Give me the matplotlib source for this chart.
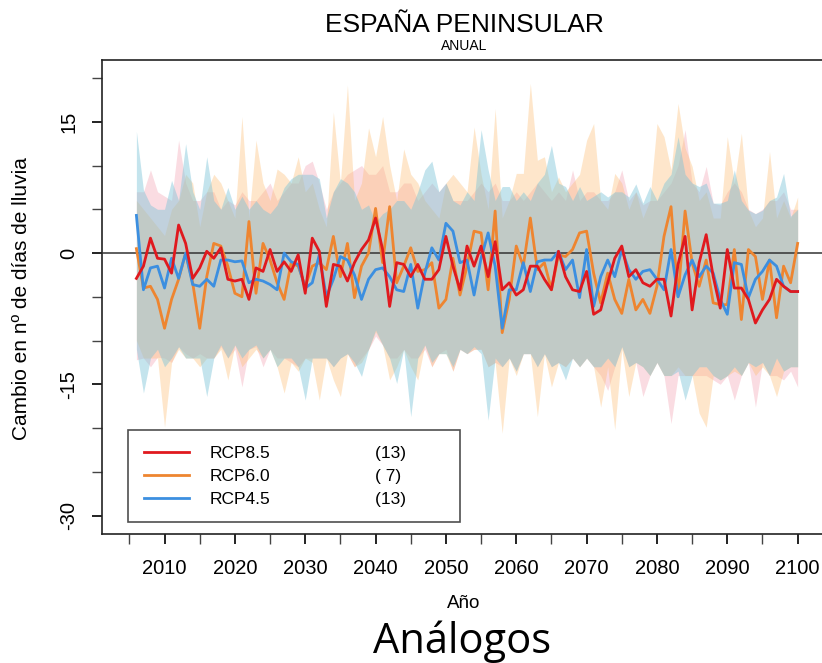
import matplotlib
matplotlib.use("Agg")
import matplotlib.pyplot as plt
from matplotlib.lines import Line2D

# ---------------- data ----------------
years = list(range(2006, 2101))

rcp85_mean = [-2.9, -1.5, 1.7, -0.6, -0.7, -2.3, 3.2, 1.1, -2.9, -1.7,
              0.2, -0.6, 0.6, -3.0, -3.2, -3.0, -5.3, -1.7, -2.1, 0.4,
              -2.1, -1.0, -2.1, -0.2, -4.6, 1.7, 0.2, -6.1, -1.3, -1.5,
              -3.2, -1.1, 0.4, 1.5, 4.0, 0.4, -6.1, -1.1, -1.3, -2.7,
              -1.3, -3.0, -3.0, -1.9, 1.9, -1.5, -4.2, 0.8, -1.5, 0.8,
              -2.7, 1.3, -4.2, -3.4, -4.8, -4.2, -1.5, -1.5, -3.0, -4.2,
              0.2, -2.7, -4.2, -4.4, -2.1, -7.0, -6.5, -3.4, -0.6, 0.8,
              -2.7, -1.9, -3.4, -3.8, -3.0, -3.0, -7.2, -1.3, 1.9, -6.5,
              -1.1, 2.1, -2.7, -6.3, 0.4, -4.0, -4.0, -5.3, -8.0, -6.5,
              -5.3, -3.0, -3.8, -4.4, -4.4]

rcp60_mean = [0.5, -4.0, -3.8, -5.3, -8.6, -5.3, -3.0, 0.0, -3.4, -8.6,
              -2.7, 1.1, 0.8, -1.5, -4.6, -5.0, 3.6, -4.6, 1.1, -0.8,
              -3.4, -5.3, -1.1, -1.5, -3.8, -1.5, -1.1, -1.9, 1.9, -2.7,
              1.1, -5.1, -1.5, 0.0, 5.1, -1.1, 5.3, -3.4, -1.5, 0.6,
              -2.1, -1.9, -1.1, -6.3, -5.3, -0.6, -4.8, -1.5, 2.5, 2.3,
              -4.2, 4.8, -9.1, -5.3, 0.8, -1.5, 4.0, -1.9, -1.1, -4.2,
              -0.2, -0.4, 0.4, 2.3, 2.5, -2.3, -5.7, -2.3, -5.3, -6.9,
              -3.0, -6.5, -5.3, -6.9, -3.8, 1.9, 5.3, -5.0, 4.8, -1.1,
              -3.8, -0.8, -5.7, -5.9, -5.9, 0.4, -7.6, 0.4, -0.4, -5.3,
              -0.8, -7.4, -1.5, -3.4, 1.1]

rcp45_mean = [4.3, -4.2, -1.7, -1.5, -4.0, -0.6, -2.9, 0.0, -3.6, -3.8,
              -3.0, -3.8, -0.8, -0.8, -1.0, -0.9, -3.4, -3.0, -3.2, -3.6,
              -4.2, 0.0, -1.0, -1.3, -4.0, -3.4, -0.2, -5.0, -3.0, -0.4,
              -0.8, -2.5, -5.3, -3.0, -1.9, -1.7, -2.7, -4.2, -4.4, -1.3,
              -6.3, -2.3, 0.6, -0.8, 3.4, 2.5, -1.1, -0.8, -4.8, -0.6,
              2.3, -1.5, -8.6, -4.2, -4.2, -1.1, -4.4, -1.0, -0.8, -0.8,
              0.2, -1.9, -0.8, -5.1, 0.4, -6.1, -2.7, -0.8, -2.7, 0.4,
              -1.9, -3.0, -2.1, -1.9, -3.0, -4.2, 0.4, -5.0, -2.5, -0.8,
              -2.7, -1.5, -2.3, -5.3, -7.0, -1.1, -1.3, -5.1, -3.0, -2.1,
              -0.8, -1.5, -3.8, -4.4, -4.4]

rcp85_hi = [7, 7, 9.5, 7, 6.5, 6, 12.9, 8, 6, 6,
            7, 7, 5, 6, 5.5, 7, 6, 6, 7, 8,
            6, 7, 8, 8, 10, 10.5, 8, 5, 7, 8,
            9, 9.5, 10, 9, 9, 10, 7, 7, 8, 8,
            6, 7, 8, 7, 8, 6, 6, 6, 7, 8,
            7, 8, 6, 6, 7, 6, 7, 8, 7, 6,
            7, 6, 9.5, 6, 7, 7, 6, 6, 7, 9.5,
            6, 7, 5.5, 6, 6, 7, 8, 10, 14.1, 8,
            7, 9.9, 5.7, 5.5, 7, 8, 7, 5, 4.5, 5,
            6, 6, 7, 5, 5]
rcp85_lo = [-12.2, -12, -13, -11.9, -12, -12.5, -10.7, -11.5, -12, -11.5,
            -12, -12, -10.7, -12, -11, -15.3, -11, -10.7, -13, -11,
            -12, -12, -12.5, -13, -12, -12, -12, -12, -13, -12,
            -11.5, -13, -12, -11, -9.5, -10.5, -12, -12, -11, -12,
            -12, -11, -13, -11.5, -11, -13.5, -11, -11.5, -11, -11,
            -13, -12.5, -13, -12, -13.5, -11.5, -11.5, -13, -11.5, -13,
            -12.5, -13, -12, -13, -12, -13, -14, -15.7, -13, -10.7,
            -13, -12.5, -16.4, -14, -12.5, -14, -19.5, -14, -14, -14,
            -14, -14, -14.5, -15, -14, -16.8, -14, -12.5, -17.6, -12.5,
            -14, -14, -14.5, -13.5, -15.3]

rcp60_hi = [6, 5, 4, 3, 2, 5, 6, 9, 8, 3,
            7, 9, 8, 6, 4, 15.6, 4, 12.9, 8, 6,
            9.6, 9, 8, 11, 7, 8, 5, 3, 16.1, 8,
            19.2, 6, 8, 14.3, 11, 15.6, 10, 6, 11.9, 9,
            8, 6, 5, 4, 8, 9, 8, 7, 14.4, 9,
            5, 16.5, 4, 6, 9.1, 9.1, 19.4, 10.6, 11, 7,
            8.7, 7, 8, 9, 12.9, 14.8, 6, 5, 9.1, 8,
            5, 7, 4, 6, 14.8, 13.3, 9.5, 17.1, 12, 9.9,
            6, 7, 4, 4, 13.3, 8, 13.7, 4.9, 3, 4,
            11.6, 4, 6, 4, 6.4]
rcp60_lo = [-10, -12, -12, -12, -19.9, -12.5, -11, -12, -12, -13,
            -12, -12, -11, -14.5, -10.5, -13, -12, -11, -12, -11,
            -13, -16, -12.5, -13.5, -12, -12.5, -16.8, -12, -14.5, -16.4,
            -11.5, -13, -12.5, -11, -9, -10.5, -14.5, -13, -11, -13,
            -14.5, -10.5, -13, -11.5, -11.5, -13.5, -11, -11.5, -11, -11,
            -13, -12.5, -20.6, -12, -14, -11.5, -11.5, -18.7, -11.5, -15.3,
            -12.5, -13, -12, -13, -12, -13, -17.6, -13, -20.2, -11,
            -16.4, -12.5, -13, -14, -12.5, -14, -14, -13, -14, -14,
            -18.3, -19.9, -14, -14.5, -14, -13.5, -14, -12.5, -14, -13,
            -14, -16.4, -13.5, -13, -13]

rcp45_hi = [13.9, 7.2, 5.5, 5.0, 5.0, 8.3, 6.0, 12.5, 7.0, 5.0,
            11.0, 6.0, 5.0, 7.5, 5.0, 6.5, 5.0, 6.0, 5.0, 4.5,
            5.5, 7.5, 8.5, 9.0, 9.0, 9.0, 8.5, 4.0, 7.0, 8.5,
            8.0, 7.0, 5.0, 5.5, 3.5, 4.5, 5.0, 6.0, 6.0, 5.0,
            7.0, 9.5, 10.5, 7.0, 8.0, 6.0, 5.5, 7.0, 6.0, 14.1,
            9.5, 6.0, 7.6, 7.6, 6.0, 7.0, 6.0, 8.0, 9.0, 12.3,
            8.0, 7.6, 6.0, 7.6, 6.0, 6.5, 7.0, 6.4, 7.0, 7.0,
            6.4, 7.9, 5.7, 7.6, 6.0, 8.0, 9.0, 13.3, 9.0, 8.0,
            7.6, 8.0, 5.7, 5.7, 6.0, 9.5, 6.0, 4.9, 4.5, 4.9,
            6.0, 6.4, 9.1, 4.2, 5.0]
rcp45_lo = [-11, -16, -12, -11, -13, -12, -10.7, -12, -12, -12,
            -16.4, -12, -10.5, -12, -10.5, -12, -11, -10.5, -12, -11,
            -13, -12, -12, -13, -16.8, -12, -12, -12, -13, -12,
            -11.5, -12.5, -14.1, -11, -8.8, -10.5, -12, -14.9, -11, -18.7,
            -12, -10.5, -12.5, -11.5, -11.5, -13, -11, -11.5, -10.7, -11.5,
            -19.1, -12, -13, -12, -13.5, -11.5, -11.5, -13, -11.5, -13,
            -12.5, -14.5, -12, -13, -12, -13, -13, -12, -13, -10.7,
            -13, -12.5, -13, -14, -12.5, -14, -14, -13.5, -16.8, -14,
            -13, -13, -14, -14.5, -14, -13, -14, -12.5, -13, -12.5,
            -14, -12, -13.5, -13, -13]

scenarios = ["RCP8.5", "RCP6.0", "RCP4.5"]
n_models = ["(13)", "( 7)", "(13)"]
x_ticks_major = list(range(2010, 2101, 10))
x_ticks_minor = list(range(2005, 2100, 10))
y_ticks_major = [-30, -15, 0, 15]
y_ticks_minor = [-25, -20, -10, -5, 5, 10, 20]

# ---------------- figure ----------------
W, H = 822, 663
fig = plt.figure(figsize=(W / 100, H / 100), dpi=100)
plt.rcParams["font.family"] = ["Liberation Sans", "DejaVu Sans"]

L, R, T, B = 102, 830, 60, 534
ax = fig.add_axes([L / W, 1 - B / H, (R - L) / W, (B - T) / H])
ax.set_xlim(2001.11, 2104.6)
ax.set_ylim(-32.11, 22.06)

# bands
ax.fill_between(years, rcp85_lo, rcp85_hi, color="#F08CA0", alpha=0.30, lw=0)
ax.fill_between(years, rcp60_lo, rcp60_hi, color="#FDBA6A", alpha=0.35, lw=0)
ax.fill_between(years, rcp45_lo, rcp45_hi, color="#7CC4D8", alpha=0.45, lw=0)

ax.axhline(0, color="#333333", lw=1.1, zorder=3)

l60, = ax.plot(years, rcp60_mean, color="#EE8530", lw=2.0, zorder=4)
l45, = ax.plot(years, rcp45_mean, color="#3C8FE0", lw=2.0, zorder=5)
l85, = ax.plot(years, rcp85_mean, color="#E0191E", lw=2.0, zorder=6)

# axes styling
for s in ax.spines.values():
    s.set_color("#222222")
    s.set_linewidth(1.2)

ax.set_xticks(x_ticks_major)
ax.set_xticks(x_ticks_minor, minor=True)
ax.set_yticks(y_ticks_major)
ax.set_yticks(y_ticks_minor, minor=True)
ax.set_xticklabels([str(v) for v in x_ticks_major])
ax.set_yticklabels([str(v) for v in y_ticks_major], rotation=90, va="center")
ax.tick_params(axis="both", which="major", length=7, width=1.4, color="#222222",
               labelsize=14.5, pad=11)
ax.tick_params(axis="both", which="minor", length=7, width=1.0, color="#444444")
ax.tick_params(axis="y", which="major", pad=10)

fig.text(464 / W, 1 - 25 / H, "ESPAÑA PENINSULAR", ha="center", va="center",
         fontsize=19)
fig.text(464 / W, 1 - 46 / H, "ANUAL", ha="center", va="center", fontsize=10)
fig.text(22 / W, 1 - 299 / H, "Cambio en nº de días de lluvia", rotation=90,
         ha="center", va="center", fontsize=15)
fig.text(464 / W, 1 - 604 / H, "Año", ha="center", va="center", fontsize=13.5)
fig.text(462 / W, 1 - 642 / H, "Análogos", ha="center", va="center",
         fontsize=30, family=["Open Sans", "DejaVu Sans"])

# legend: line + name column, then count column
blank = [Line2D([], [], color="none") for _ in n_models]
count_labels = [c + "        " for c in n_models]
leg = ax.legend([l85, l60, l45] + blank, scenarios + count_labels, ncol=2,
                loc="upper left", bbox_to_anchor=(128 / W, 1 - 430 / H),
                bbox_transform=fig.transFigure, borderaxespad=0,
                fontsize=12.5, frameon=True, fancybox=False,
                handlelength=2.6, handletextpad=1.2, labelspacing=0.45,
                columnspacing=2.2, borderpad=0.9)
leg.get_frame().set_edgecolor("#222222")
leg.get_frame().set_linewidth(1.2)

fig.savefig("out.png", dpi=100)
